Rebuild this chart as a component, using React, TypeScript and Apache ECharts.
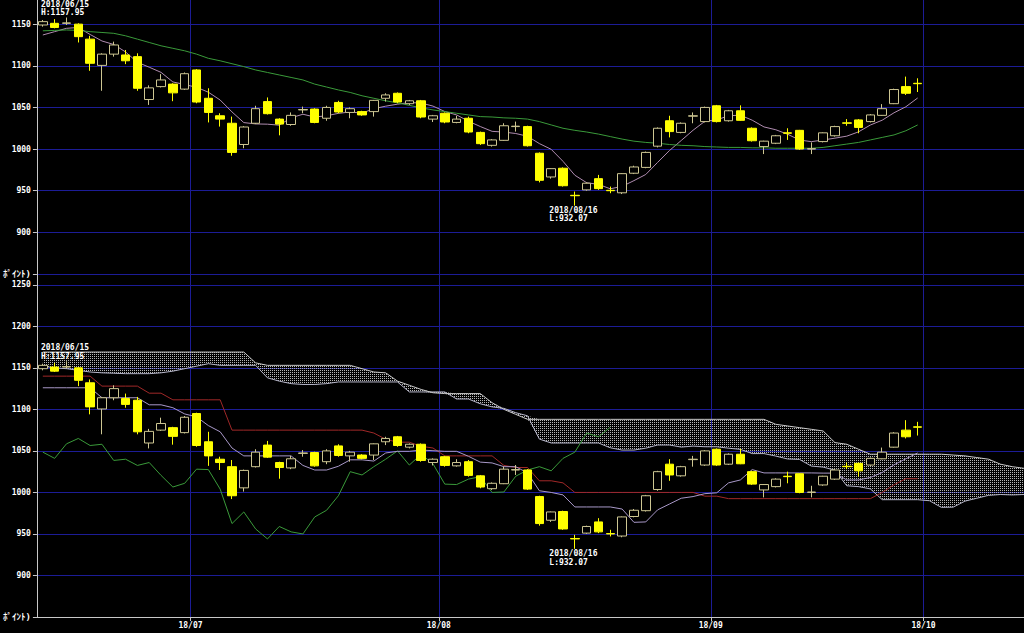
import React, { useEffect, useRef } from "react";
import * as echarts from "echarts";

// ---- data ----
const dates = [
  "2018/06/13","2018/06/14","2018/06/15","2018/06/18","2018/06/19","2018/06/20","2018/06/21","2018/06/22","2018/06/25","2018/06/26","2018/06/27","2018/06/28","2018/06/29",
  "2018/07/02","2018/07/03","2018/07/04","2018/07/05","2018/07/06","2018/07/09","2018/07/10","2018/07/11","2018/07/12","2018/07/13","2018/07/17","2018/07/18","2018/07/19","2018/07/20","2018/07/23","2018/07/24","2018/07/25","2018/07/26","2018/07/27","2018/07/30","2018/07/31",
  "2018/08/01","2018/08/02","2018/08/03","2018/08/06","2018/08/07","2018/08/08","2018/08/09","2018/08/10","2018/08/13","2018/08/14","2018/08/15","2018/08/16","2018/08/17","2018/08/20","2018/08/21","2018/08/22","2018/08/23","2018/08/24","2018/08/27","2018/08/28","2018/08/29","2018/08/30","2018/08/31",
  "2018/09/03","2018/09/04","2018/09/05","2018/09/06","2018/09/07","2018/09/10","2018/09/11","2018/09/12","2018/09/13","2018/09/14","2018/09/18","2018/09/19","2018/09/20","2018/09/21","2018/09/25","2018/09/26","2018/09/27","2018/09/28",
  "2018/10/01","2018/10/02","2018/10/03","2018/10/04","2018/10/05","2018/10/09","2018/10/10","2018/10/11","2018/10/12",
];
const monthStarts = ["2018/07/02", "2018/08/01", "2018/09/03", "2018/10/01"];

const opens = [1149,1151,1151,1150,1132,1100.5,1114,1113,1111,1059.5,1075,1078,1072,1095,1061,1040,1031,1005.5,1031,1057,1036,1029.5,1047,1048,1037,1056,1044,1045,1045,1061,1067,1054.5,1058,1036,1043,1032,1037,1020,1004.5,1010.5,1027,1027,995,966.5,977,944.5,951,964.5,950.5,947.5,971,978,1003.5,1034,1020,1039.5,1033,1052,1034,1046,1025,1003,1007,1019.5,1022.5,1000,1009,1016,1031.5,1035,1033,1040.5,1054.5,1075,1079];
const closes = [1153,1146,1151.5,1135,1103,1114,1125,1106,1073,1073.5,1083,1067.5,1090.5,1056.5,1044,1036,996,1026.5,1048.5,1042.5,1030,1040.5,1047.5,1032,1050,1044.5,1048.5,1041,1058.5,1065,1056.5,1058,1038.5,1040,1032.5,1036,1020.5,1006.5,1011,1028,1027.5,1004,962.5,976.5,956,944,959,952.5,950,970.5,978.5,996,1025,1021,1031,1040,1050,1033,1046,1034.5,1010,1009.5,1016,1019,1000,1000.5,1019.5,1027,1031,1026,1041,1048.5,1071.5,1067,1078.5];
const lows = [1147,1145,1149,1128,1094,1070,1111,1102,1070,1053,1074,1057.5,1071,1055,1032,1027,992,1001,1030,1041.5,1016.5,1028,1043,1031,1034,1043,1037,1040,1039,1057,1055,1053,1037,1032.5,1031,1031,1019,1005,1003,1010,1021,1003,960,964.5,955,932.07,950,951,947,946,970,977,1002,1014,1019,1031,1032,1032,1033,1034,1009,994,1006,1011,999,994,1008,1015,1028,1019,1032,1040,1054,1065,1068.5];
const highs = [1155,1156,1157.95,1151,1136,1115,1129,1119,1115,1076.5,1090,1079,1092,1096,1073,1043,1039,1027.5,1052,1062,1037,1044,1051,1049,1052,1058,1050,1046,1059,1067,1068,1059,1059,1041,1044,1040,1039,1021,1012,1031,1033,1028,996,977,978,949,960,969,955,971,980,997,1026,1040,1032,1044,1051,1053,1047,1052.5,1026,1010,1017,1025,1023,1008,1020,1028,1036,1036,1042,1054,1072.5,1087,1085];

// top panel moving averages
const maShort = [1137,1141,1145,1146,1137.6,1129.8,1125.6,1116.6,1104.2,1098.3,1092.1,1080.6,1077.5,1074.2,1068.3,1058.9,1044.6,1031.8,1030.2,1029.9,1028.7,1037.6,1041.8,1038.5,1040,1042.9,1044.5,1043.2,1048.5,1051.5,1053.9,1055.8,1055.3,1051.6,1045.1,1041,1033.5,1027.1,1021.3,1020.4,1018.7,1015.4,1006.6,999.7,985.3,968.6,959.6,957.6,952.3,955.2,962.1,969.5,984,998.2,1010.3,1022.6,1033.4,1035,1040,1040.7,1034.7,1026.6,1023.2,1017.8,1010.9,1008.9,1010.9,1013.1,1015.5,1020.7,1028.9,1034.7,1043.6,1050.8,1061.4];
const maLong = [1142,1142.5,1143,1142.5,1141,1140,1139,1136,1132,1128,1124,1121,1118,1114,1109,1106,1102.5,1099,1095,1092,1089,1086,1083,1078,1074.5,1071,1068,1064,1061,1058,1055.5,1052.5,1049.5,1047,1045,1043,1041,1039,1038.5,1037.5,1037,1036,1033,1029,1025,1022.5,1020.5,1018,1015,1012,1009.5,1008,1007,1005.5,1004.5,1004,1003,1002.5,1002,1002,1001.5,1001.5,1001,1001,1001,1001,1002,1004,1006,1008,1011,1014,1017,1022,1029];

// bottom panel: ichimoku
const tenkan = [1126,1126,1126,1126,1126,1114,1114,1114,1114,1105.5,1105.5,1102,1094.5,1091,1080.5,1073,1053.5,1044,1044,1044,1044,1044,1032.5,1027,1027,1031.5,1039.25,1039.25,1037.75,1047.5,1049.5,1049.5,1051,1050.25,1049.5,1049.5,1043.5,1036.5,1035.5,1031,1031,1023.5,1002,1000,997,982.5,982.5,982.5,982.5,980,964,964.5,979,986,993,995,998.5,999.5,1011.5,1015,1027.5,1023.5,1023.5,1023.5,1023.5,1023.5,1023.25,1023.25,1015,1015,1018,1024,1033.25,1040.5,1047.5];
const kijun = [1140,1140,1140,1140,1140,1128,1128,1128,1128,1119.5,1119.5,1111.5,1111.5,1111.5,1111.5,1111.5,1075,1075,1075,1075,1075,1075,1075,1075,1075,1075,1075,1075,1071.5,1064,1060.5,1060.5,1055.5,1053.5,1044,1044,1044,1044,1044,1032.5,1030,1030,1014,1014,1011.5,1000,1000,1000,1000,1000,1000,1000,1000,1000,1000,1000,995.5,995.5,992.5,992.5,992.5,992.5,992.5,992.5,992.5,992.5,992.5,992.5,992.5,992.5,992.5,1000,1009.25,1016.5,1016.5];
const spanA = [1152,1150,1149,1147,1145,1144,1143.5,1143,1143,1143,1144,1146,1149,1152,1155,1153,1153,1153,1153,1138,1134,1131,1130,1130,1131,1133,
  1133,1133,1133,1133,1133,1121,1121,1121,1121,1112.5,1112.5,1106.75,1103,1101.25,1096,1092.25,1064.25,1059.5,1059.5,1059.5,1059.5,1059.5,1053.75,1051,1051,1053.25,1057.1,1057.1,1054.6,1055.75,1055,1055,1053.25,1051.9,1046.75,1046.75,1043.75,1040.25,1039.75,1031.75,1030.5,1026.75,1008,1007,1004.25,991.25,991.25,991.25,991.25,990,982,982.25,989.5,993,996.5,997.5,997,997.5];
const spanB = [1169,1169,1169,1169,1169,1169,1169,1169,1169,1169,1169,1169,1169,1169,1169,1169,1169,1169,1156,1153,1153,1153,1153,1153,1153,1153,1153,1149,1145,1144,1134,1129,1124,1120,1119,1119,1119,1119,1108,1100,1094,
  1088,1088,1088,1088,1088,1088,1088,1088,1088,1088,1088,1088,1088,1088,1088,1088,1088,1088,1088,1088,1088,1082,1080,1078,1076,1074,1060,1058,1052,1046,1046,1046,1046,1046,1046,1046,1045,1044,1042,1040,1034,1031,1029];

const yMinLabel = "ﾎﾟｲﾝﾄ)";
const CHIKOU_SHIFT = 26;

const FONT = "'DejaVu Sans Mono', 'Noto Sans CJK JP', monospace";
const BLUE = "#1c1c96";
const AXIS = "#c8c8c8";
const UP_BORDER = "#cdc692";
const YELLOW = "#ffff00";

export default function App() {
  const ref = useRef<HTMLDivElement>(null);

  useEffect(() => {
    const chart = echarts.init(ref.current!, null, { renderer: "svg" });

    const canvas = document.createElement("canvas");
    canvas.width = 2;
    canvas.height = 2;
    const ctx = canvas.getContext("2d")!;
    ctx.clearRect(0, 0, 2, 2);
    ctx.fillStyle = "#b4b4b4";
    ctx.fillRect(0, 0, 1, 1);

    const candles = opens.map((o, i) => [o, closes[i], lows[i], highs[i]]);
    const chikou = dates.map((_, i) => (i + CHIKOU_SHIFT < closes.length ? closes[i + CHIKOU_SHIFT] : null));
    const cloudLow = spanA.map((a, i) => Math.min(a, spanB[i]));
    const cloudBand = spanA.map((a, i) => Math.max(a, spanB[i]) - Math.min(a, spanB[i]));

    let hiIdx = 0;
    let loIdx = 0;
    highs.forEach((h, i) => { if (h > highs[hiIdx]) hiIdx = i; });
    lows.forEach((l, i) => { if (l < lows[loIdx]) loIdx = i; });

    const isMonthStart = (_i: number, v: string) => monthStarts.includes(v);

    const markLabelStyle = {
      show: true,
      color: "#ffffff",
      fontFamily: FONT,
      fontSize: 8,
      fontWeight: "bold",
      lineHeight: 8.5,
      align: "left",
      verticalAlign: "top",
    };
    const markPoint = {
      symbol: "circle",
      symbolSize: 1,
      itemStyle: { color: "rgba(0,0,0,0)" },
      label: markLabelStyle,
      data: [
        {
          coord: [dates[hiIdx], highs[hiIdx]],
          label: { ...markLabelStyle, position: [-25, -17], formatter: `${dates[hiIdx]}\nH:${highs[hiIdx].toFixed(2)}` },
        },
        {
          coord: [dates[loIdx], lows[loIdx]],
          label: { ...markLabelStyle, position: [-25, 1], formatter: `${dates[loIdx]}\nL:${lows[loIdx].toFixed(2)}` },
        },
      ],
    };

    const yAxis = (gridIndex: number, min: number, max: number) => ({
      type: "value",
      gridIndex,
      min,
      max,
      interval: 50,
      axisLine: { show: true, lineStyle: { color: AXIS, width: 1 } },
      axisTick: { show: true, length: 4, lineStyle: { color: AXIS } },
      axisLabel: {
        color: "#ffffff",
        fontFamily: FONT,
        fontSize: 8,
        fontWeight: "bold",
        margin: 6,
        showMaxLabel: false,
        showMinLabel: true,
        formatter: (v: number) => (v === min ? `{k|${yMinLabel}}` : String(v)),
        rich: { k: { color: "#ffffff", fontSize: 9, fontWeight: "bold", fontFamily: FONT } },
      },
      splitLine: { show: true, showMaxLine: false, lineStyle: { color: BLUE, width: 1 } },
    });

    const candleStyle = {
      color: "#000000",
      color0: YELLOW,
      borderColor: UP_BORDER,
      borderColor0: YELLOW,
      borderWidth: 1,
    };

    const line = (name: string, data: (number | null)[], color: string, gridIdx: number, z = 2) => ({
      name,
      type: "line",
      xAxisIndex: gridIdx,
      yAxisIndex: gridIdx,
      data,
      showSymbol: false,
      symbol: "none",
      lineStyle: { color, width: 1 },
      z,
      silent: true,
    });

    const option = {
      animation: false,
      backgroundColor: "#000000",
      grid: [
        { left: 36, top: 0, right: 0, height: 274 },
        { left: 36, top: 274, right: 0, height: 343 },
      ],
      xAxis: [
        {
          type: "category",
          gridIndex: 0,
          data: dates,
          boundaryGap: true,
          axisLine: { show: false },
          axisTick: { show: false },
          axisLabel: { show: false },
          splitLine: { show: true, interval: isMonthStart, lineStyle: { color: BLUE, width: 1 } },
        },
        {
          type: "category",
          gridIndex: 1,
          data: dates,
          boundaryGap: true,
          axisLine: { show: true, lineStyle: { color: AXIS, width: 1 } },
          axisTick: { show: true, interval: isMonthStart, length: 4, lineStyle: { color: AXIS } },
          axisLabel: {
            show: true,
            interval: isMonthStart,
            formatter: (v: string) => v.slice(2, 7),
            color: "#ffffff",
            fontFamily: FONT,
            fontSize: 8,
            fontWeight: "bold",
            margin: 4,
            padding: [0, 12, 0, 0],
          },
          splitLine: { show: true, interval: isMonthStart, lineStyle: { color: BLUE, width: 1 } },
        },
      ],
      yAxis: [yAxis(0, 850, 1179), yAxis(1, 850, 1263)],
      series: [
        // top panel
        line("MA short", maShort, "#b08cb0", 0),
        line("MA long", maLong, "#3a9a3a", 0),
        {
          name: "candles top",
          type: "candlestick",
          xAxisIndex: 0,
          yAxisIndex: 0,
          data: candles,
          barWidth: 9,
          itemStyle: candleStyle,
          z: 3,
          markPoint,
        },
        // bottom panel - cloud
        {
          name: "cloud base",
          type: "line",
          xAxisIndex: 1,
          yAxisIndex: 1,
          data: cloudLow,
          stack: "cloud",
          showSymbol: false,
          symbol: "none",
          lineStyle: { opacity: 0 },
          silent: true,
          z: 1,
        },
        {
          name: "cloud",
          type: "line",
          xAxisIndex: 1,
          yAxisIndex: 1,
          data: cloudBand,
          stack: "cloud",
          showSymbol: false,
          symbol: "none",
          lineStyle: { opacity: 0 },
          areaStyle: { color: { image: canvas, repeat: "repeat", imageWidth: 2, imageHeight: 2 }, opacity: 1 },
          silent: true,
          z: 1,
        },
        line("Senkou A", spanA, "#b4b4c8", 1),
        line("Senkou B", spanB, "#c8c8c8", 1),
        line("Chikou", chikou, "#3a9a3a", 1),
        line("Kijun", kijun, "#a02828", 1),
        line("Tenkan", tenkan, "#a898c8", 1),
        {
          name: "candles bottom",
          type: "candlestick",
          xAxisIndex: 1,
          yAxisIndex: 1,
          data: candles,
          barWidth: 9,
          itemStyle: candleStyle,
          z: 3,
          markPoint,
        },
      ],
    };

    chart.setOption(option as any);
    return () => chart.dispose();
  }, []);

  return (
    <div style={{ position: "fixed", left: 0, top: 0, width: 1024, height: 633, overflow: "hidden", background: "#000" }}>
      <div ref={ref} style={{ width: 1030, height: 633 }} />
    </div>
  );
}
